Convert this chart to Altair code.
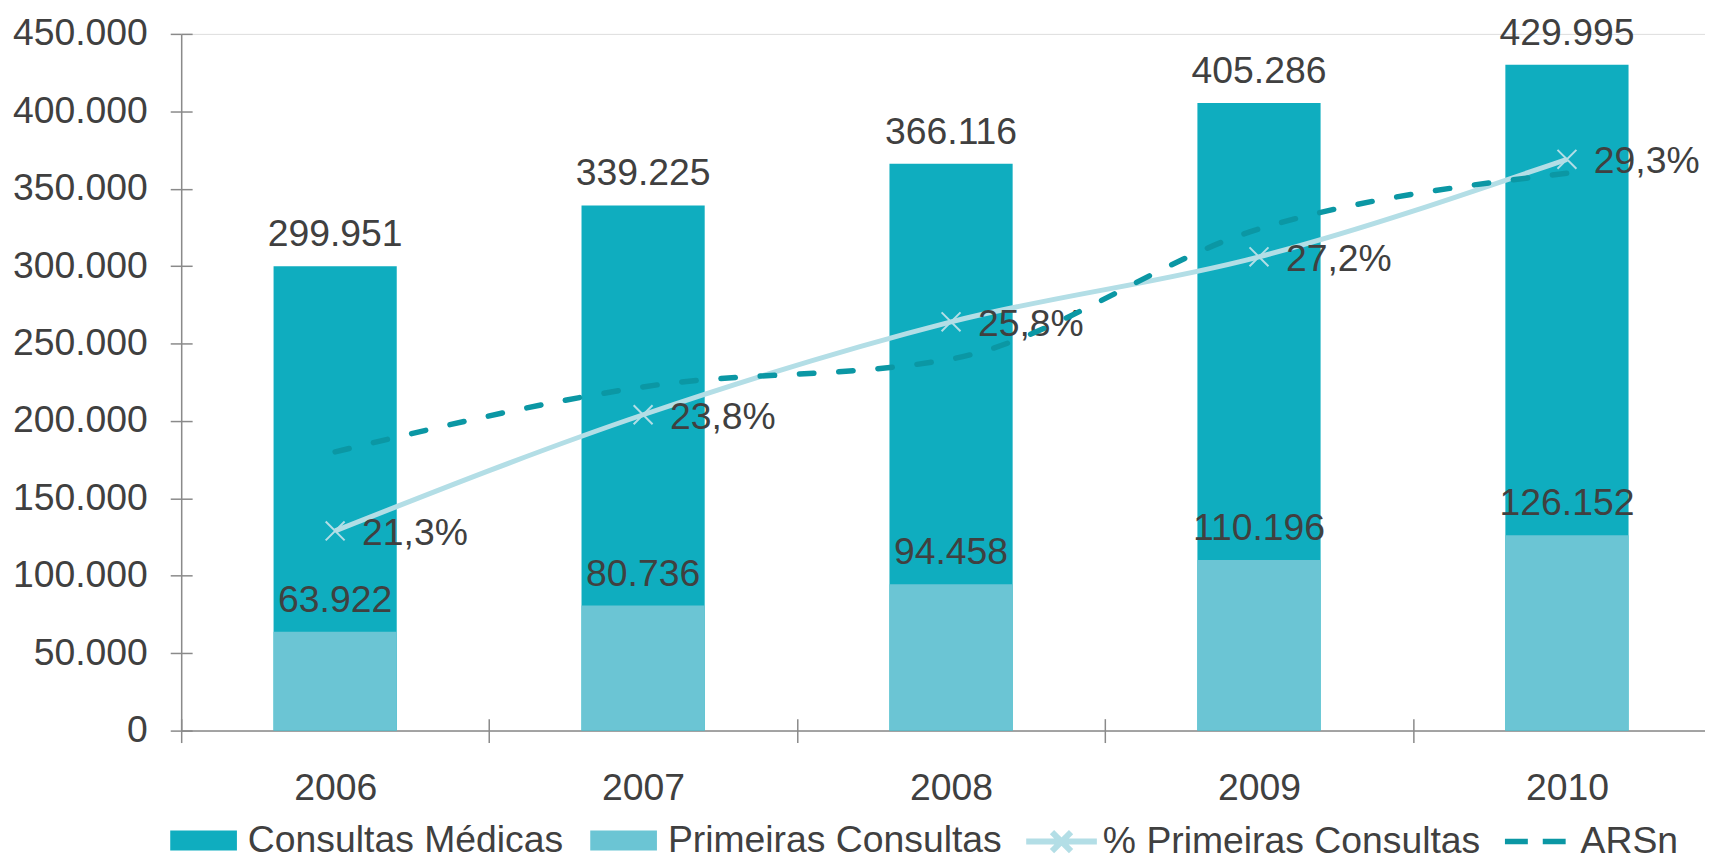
import altair as alt
import pandas as pd

# ---- data ----
anos = ["2006", "2007", "2008", "2009", "2010"]
consultas_medicas = [299951, 339225, 366116, 405286, 429995]
primeiras_consultas = [63922, 80736, 94458, 110196, 126152]
pct_primeiras = [21.3, 23.8, 25.8, 27.2, 29.3]
arsn = [23.0, 24.4, 25.0, 27.8, 29.0]
y_ticks = [0, 50000, 100000, 150000, 200000, 250000, 300000, 350000, 400000, 450000]
series_barras = ["Consultas Médicas", "Primeiras Consultas"]
serie_pct = "% Primeiras Consultas"
serie_arsn = "ARSn"


def fmt_int(v):
    return f"{v:,}".replace(",", ".")


def fmt_pct(v):
    return f"{v:.1f}".replace(".", ",") + "%"


bars_df = pd.DataFrame({
    "ano": anos * 2,
    "serie": [series_barras[0]] * len(anos) + [series_barras[1]] * len(anos),
    "valor": consultas_medicas + primeiras_consultas,
})
bars_df["rotulo"] = bars_df["valor"].map(fmt_int)

lines_df = pd.DataFrame({"ano": anos, "pct": pct_primeiras, "arsn": arsn})
lines_df["rotulo"] = lines_df["pct"].map(fmt_pct)

# ---- style ----
FONT = "Liberation Sans"
TXT = "#404040"
AX = "#8a8a8a"
C_TOTAL = "#0FADBF"
C_PRIM = "#6BC5D4"
C_PCT = "#B3DEE6"
C_ARSN = "#0B97A4"
FS = 37.5

x_scale = alt.Scale(paddingInner=0, paddingOuter=0, range=[0, 1547])
y_count_scale = alt.Scale(domain=[0, 450000], nice=False, zero=True)
y_pct_scale = alt.Scale(domain=[17, 32], nice=False, zero=False)

x_main = alt.X(
    "ano:N", scale=x_scale, sort=anos,
    axis=alt.Axis(title=None, orient="bottom", labelAngle=0, tickBand="extent",
                  tickSize=12, labelPadding=27, labelFontSize=FS, labelFont=FONT,
                  labelColor=TXT, domainColor=AX, tickColor=AX, domainWidth=1.5,
                  tickWidth=1.5, grid=False),
)
y_main = alt.Y(
    "valor:Q", scale=y_count_scale, stack=None,
    axis=alt.Axis(title=None, orient="left", values=y_ticks, tickSize=11, labelPadding=23,
                  labelExpr="replace(format(datum.value, ','), ',', '.')",
                  labelFontSize=FS, labelFont=FONT, labelColor=TXT,
                  domainColor=AX, tickColor=AX, domainWidth=1.5, tickWidth=1.5,
                  grid=False),
)

legend_common = dict(orient="none", direction="horizontal", title=None,
                     labelFontSize=FS, labelFont=FONT, labelColor=TXT,
                     labelLimit=0)

bars = alt.Chart(bars_df).mark_bar(width=alt.RelativeBandSize(0.4)).encode(
    x=x_main,
    y=y_main,
    fill=alt.Fill(
        "serie:N",
        scale=alt.Scale(domain=series_barras, range=[C_TOTAL, C_PRIM]),
        legend=alt.Legend(legendX=-11, legendY=777,
                          symbolType="M-1,-0.3H1V0.3H-1Z", symbolSize=4489,
                          symbolStrokeWidth=0, columnPadding=27, labelOffset=11,
                          **legend_common),
    ),
)
bar_labels = alt.Chart(bars_df).mark_text(
    baseline="alphabetic", dy=-20, fontSize=FS, font=FONT, color=TXT
).encode(x=x_main, y=y_main, text="rotulo:N")

layer_a = alt.layer(bars, bar_labels)

# cross ticks (inner half of tick marks)
x_inner = alt.X(
    "ano:N", scale=x_scale, sort=anos,
    axis=alt.Axis(title=None, orient="bottom", labels=False, domain=False, offset=-12,
                  tickSize=12, tickBand="extent", tickColor=AX, tickWidth=1.5,
                  grid=False),
)
y_inner = alt.Y(
    "valor:Q", scale=y_count_scale, stack=None,
    axis=alt.Axis(title=None, orient="left", labels=False, domain=False, offset=-11,
                  tickSize=11, values=y_ticks, tickColor=AX, tickWidth=1.5, grid=False),
)
layer_c = alt.Chart(bars_df).mark_point(opacity=0).encode(x=x_inner, y=y_inner)

# lines on the secondary (hidden) scale
x_none = alt.X("ano:N", scale=x_scale, sort=anos, axis=None)
base = alt.Chart(lines_df)
line_pct = base.transform_calculate(s=f"'{serie_pct}'").mark_line(
    interpolate="monotone", strokeWidth=5
).encode(
    x=x_none,
    y=alt.Y("pct:Q", scale=y_pct_scale, axis=None),
    stroke=alt.Stroke(
        "s:N",
        scale=alt.Scale(domain=[serie_pct], range=[C_PCT]),
        legend=alt.Legend(legendX=846, legendY=773,
                          symbolType="M-1,0H1M-0.27,-0.27L0.27,0.27M-0.27,0.27L0.27,-0.27",
                          symbolSize=5041, symbolStrokeWidth=6, labelOffset=3,
                          **legend_common),
    ),
)
pts_pct = base.mark_point(
    shape="M-1,-1L1,1M-1,1L1,-1", size=361, filled=False, strokeWidth=2,
    color=C_PCT, opacity=1
).encode(x=x_none, y=alt.Y("pct:Q", scale=y_pct_scale, axis=None))
lbl_pct = base.mark_text(
    align="left", baseline="alphabetic", dx=27, dy=14, fontSize=FS, font=FONT, color=TXT
).encode(x=x_none, y=alt.Y("pct:Q", scale=y_pct_scale, axis=None), text="rotulo:N")
line_arsn = base.transform_calculate(s2=f"'{serie_arsn}'").mark_line(
    interpolate="monotone", strokeWidth=5.5, strokeCap="round", color=C_ARSN,
    strokeDash=[14.5, 25]
).encode(
    x=x_none,
    y=alt.Y("arsn:Q", scale=y_pct_scale, axis=None),
    opacity=alt.Opacity(
        "s2:O",
        scale=alt.Scale(domain=[serie_arsn], range=[1]),
        legend=alt.Legend(legendX=1327, legendY=778, symbolType="stroke",
                          symbolSize=3721, symbolStrokeColor=C_ARSN,
                          symbolDash=[23, 15], symbolFillColor="transparent",
                          symbolStrokeWidth=5.5, labelOffset=12, **legend_common),
    ),
)
layer_b = alt.layer(line_pct, pts_pct, lbl_pct, line_arsn)

chart = alt.layer(layer_a, layer_c, layer_b).resolve_scale(
    y="independent"
).resolve_axis(
    x="independent"
).properties(
    width=1531, height=700,
    padding={"left": 174, "top": 24, "right": 0, "bottom": 129},
    autosize=alt.AutoSizeParams(type="none"),
).configure_view(stroke=None).configure(font=FONT)

chart.save("out.html", embed_options={"renderer": "svg", "actions": False})
